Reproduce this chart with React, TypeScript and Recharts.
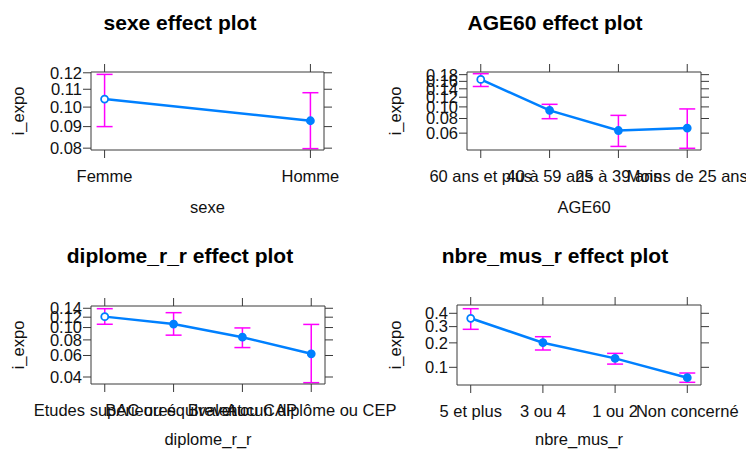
import React from 'react';
import { ComposedChart, Line, XAxis, YAxis, ErrorBar } from 'recharts';

// ---- data (probabilities) ----
const sexeCats = ['Femme', 'Homme'];
const sexeFit = [0.1044, 0.0929];
const sexeLower = [0.09, 0.0798];
const sexeUpper = [0.119, 0.108];
const sexeTicks = [0.08, 0.09, 0.1, 0.11, 0.12];
const sexeTickLabels = ['0.08', '0.09', '0.10', '0.11', '0.12'];

const ageCats = ['60 ans et plus', '40 à 59 ans', '25 à 39 ans', 'Moins de 25 ans'];
const ageFit = [0.1657, 0.0936, 0.0632, 0.0663];
const ageLower = [0.146, 0.0797, 0.046, 0.0443];
const ageUpper = [0.183, 0.105, 0.085, 0.0962];
const ageTicks = [0.06, 0.08, 0.1, 0.12, 0.14, 0.16, 0.18];
const ageTickLabels = ['0.06', '0.08', '0.10', '0.12', '0.14', '0.16', '0.18'];

const diplCats = ['Etudes supérieures', 'BAC ou équivalent', 'Brevet ou CAP', 'Aucun diplôme ou CEP'];
const diplFit = [0.1212, 0.1064, 0.084, 0.0619];
const diplLower = [0.106, 0.0872, 0.0695, 0.0359];
const diplUpper = [0.139, 0.1298, 0.0993, 0.1057];
const diplTicks = [0.04, 0.06, 0.08, 0.1, 0.12, 0.14];
const diplTickLabels = ['0.04', '0.06', '0.08', '0.10', '0.12', '0.14'];

const musCats = ['5 et plus', '3 ou 4', '1 ou 2', 'Non concerné'];
const musFit = [0.361, 0.2009, 0.13, 0.073];
const musLower = [0.2816, 0.1648, 0.11, 0.0633];
const musUpper = [0.437, 0.2347, 0.15, 0.0842];
const musTicks = [0.1, 0.2, 0.3, 0.4];
const musTickLabels = ['0.1', '0.2', '0.3', '0.4'];

// ---- helpers ----
const logit = (p: number) => Math.log(p / (1 - p));
const buildRows = (fit: number[], lower: number[], upper: number[]) =>
  fit.map((f, i) => ({
    x: i,
    y: logit(f),
    err: [logit(f) - logit(lower[i]), logit(upper[i]) - logit(f)],
  }));

const BLUE = '#0080FF';
const MAGENTA = '#FF00FF';
const AXIS = '#3a3a3a';
const FONT = '"Liberation Sans", Arial, Helvetica, sans-serif';
const W = 746;
const H = 452;
const YL = 60; // left y-axis width
const YR = 12; // right y-axis width
const XB = 30; // bottom x-axis height
const XT = 12; // top x-axis height

type Box = { left: number; right: number; top: number; bottom: number };

type PanelProps = {
  cats: string[];
  fit: number[];
  lower: number[];
  upper: number[];
  ticks: number[];
  tickLabels: string[];
  yDom: [number, number];
  xDom: [number, number];
  box: Box;
};

function Panel({ cats, fit, lower, upper, ticks, tickLabels, yDom, xDom, box }: PanelProps) {
  const rows = buildRows(fit, lower, upper);
  const yTicks = ticks.map(logit);
  const xTicks = cats.map((_, i) => i);
  const yDomain: [number, number] = [logit(yDom[0]), logit(yDom[1])];
  const fmtY = (v: number) => {
    const i = yTicks.findIndex((t) => Math.abs(t - v) < 1e-9);
    return i >= 0 ? tickLabels[i] : '';
  };
  const fmtX = (v: number) => cats[Math.round(v)] ?? '';
  const tickStyle = { fill: '#111', fontSize: 16.5, fontFamily: FONT };
  const margin = {
    left: box.left - YL,
    right: W - box.right - YR,
    top: box.top - XT,
    bottom: H - box.bottom - XB,
  };
  return (
    <div style={{ position: 'absolute', left: 0, top: 0 }}>
      <ComposedChart width={W} height={H} data={rows} margin={margin}>
        <XAxis
          xAxisId="b"
          type="number"
          dataKey="x"
          domain={xDom}
          ticks={xTicks}
          interval={0}
          tickFormatter={fmtX}
          height={XB}
          tickSize={8}
          tickMargin={12}
          allowDataOverflow
          stroke={AXIS}
          tick={tickStyle}
        />
        <XAxis
          xAxisId="t"
          orientation="top"
          type="number"
          dataKey="x"
          domain={xDom}
          ticks={xTicks}
          interval={0}
          tickFormatter={() => ''}
          height={XT}
          tickSize={8}
          allowDataOverflow
          stroke={AXIS}
          tick={tickStyle}
        />
        <YAxis
          yAxisId="l"
          type="number"
          domain={yDomain}
          ticks={yTicks}
          interval={0}
          tickFormatter={fmtY}
          width={YL}
          tickSize={8}
          tickMargin={1}
          allowDataOverflow
          stroke={AXIS}
          tick={tickStyle}
        />
        <YAxis
          yAxisId="r"
          orientation="right"
          type="number"
          domain={yDomain}
          ticks={yTicks}
          interval={0}
          tickFormatter={() => ''}
          width={YR}
          tickSize={8}
          allowDataOverflow
          stroke={AXIS}
          tick={tickStyle}
        />
        <Line
          xAxisId="b"
          yAxisId="l"
          dataKey="y"
          type="linear"
          stroke={BLUE}
          strokeWidth={2.5}
          isAnimationActive={false}
          dot={(p: any) => (
            <circle
              key={`d${p.index}`}
              cx={p.cx}
              cy={p.cy}
              r={3.5}
              fill={p.index === 0 ? '#ffffff' : BLUE}
              stroke={BLUE}
              strokeWidth={1.8}
            />
          )}
        >
          <ErrorBar
            dataKey="err"
            direction="y"
            width={8}
            stroke={MAGENTA}
            strokeWidth={1.5}
            isAnimationActive={false}
          />
        </Line>
      </ComposedChart>
    </div>
  );
}

const titleStyle = { fontFamily: FONT, fontSize: 21, fontWeight: 700 as const, fill: '#000' };
const labStyle = { fontFamily: FONT, fontSize: 16.5, fill: '#111' };

export default function App() {
  return (
    <div style={{ position: 'absolute', left: 0, top: 0, width: W, height: H, background: '#fff', overflow: 'hidden' }}>
      <Panel
        cats={sexeCats}
        fit={sexeFit}
        lower={sexeLower}
        upper={sexeUpper}
        ticks={sexeTicks}
        tickLabels={sexeTickLabels}
        yDom={[0.0792, 0.1205]}
        xDom={[-0.066, 1.066]}
        box={{ left: 91, right: 324, top: 72, bottom: 150 }}
      />
      <Panel
        cats={ageCats}
        fit={ageFit}
        lower={ageLower}
        upper={ageUpper}
        ticks={ageTicks}
        tickLabels={ageTickLabels}
        yDom={[0.0428, 0.1884]}
        xDom={[-0.2, 3.2]}
        box={{ left: 467, right: 701, top: 72, bottom: 150 }}
      />
      <Panel
        cats={diplCats}
        fit={diplFit}
        lower={diplLower}
        upper={diplUpper}
        ticks={diplTicks}
        tickLabels={diplTickLabels}
        yDom={[0.035, 0.1455]}
        xDom={[-0.2, 3.2]}
        box={{ left: 91, right: 325, top: 306, bottom: 384 }}
      />
      <Panel
        cats={musCats}
        fit={musFit}
        lower={musLower}
        upper={musUpper}
        ticks={musTicks}
        tickLabels={musTickLabels}
        yDom={[0.0582, 0.4675]}
        xDom={[-0.19, 3.19]}
        box={{ left: 457, right: 701, top: 305, bottom: 385 }}
      />
      <svg width={W} height={H} style={{ position: 'absolute', left: 0, top: 0, pointerEvents: 'none' }}>
        <text x={180} y={30} textAnchor="middle" style={titleStyle}>sexe effect plot</text>
        <text x={555} y={30} textAnchor="middle" style={titleStyle}>AGE60 effect plot</text>
        <text x={180} y={263} textAnchor="middle" style={titleStyle}>diplome_r_r effect plot</text>
        <text x={555} y={263} textAnchor="middle" style={titleStyle}>nbre_mus_r effect plot</text>

        <text x={207.5} y={213} textAnchor="middle" style={labStyle}>sexe</text>
        <text x={584} y={213} textAnchor="middle" style={labStyle}>AGE60</text>
        <text x={208} y={445} textAnchor="middle" style={labStyle}>diplome_r_r</text>
        <text x={579} y={445} textAnchor="middle" style={labStyle}>nbre_mus_r</text>

        <text x={24} y={111} textAnchor="middle" transform="rotate(-90 24 111)" style={labStyle}>i_expo</text>
        <text x={401} y={111} textAnchor="middle" transform="rotate(-90 401 111)" style={labStyle}>i_expo</text>
        <text x={24} y={345} textAnchor="middle" transform="rotate(-90 24 345)" style={labStyle}>i_expo</text>
        <text x={401} y={345} textAnchor="middle" transform="rotate(-90 401 345)" style={labStyle}>i_expo</text>
      </svg>
    </div>
  );
}
